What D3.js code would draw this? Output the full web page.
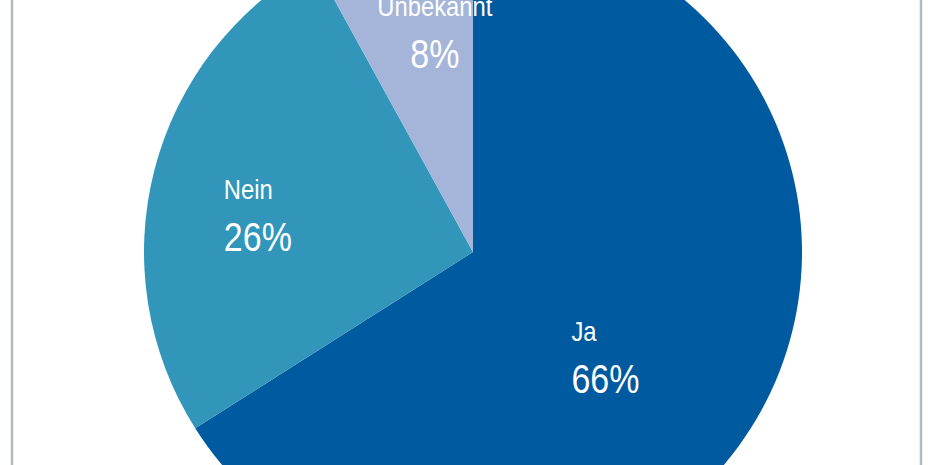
<!DOCTYPE html>
<html>
<head>
<meta charset="utf-8">
<script src="https://cdn.jsdelivr.net/npm/d3@7"></script>
<style>
  body { margin: 0; background: #fff; }
  svg { display: block; }
  .label-name, .label-value {
    fill: #fff;
    font-family: "Liberation Sans", Arial, sans-serif;
  }
  .label-name { font-size: 28px; }
  .label-value { font-size: 40px; }
</style>
</head>
<body>
<div id="chart-holder"></div>
<script>
// chart data
var categories = ["Ja", "Nein", "Unbekannt"];
var shares = [66, 26, 8];
var colors = ["#005aa0", "#3196ba", "#a4b5d9"];

// label nudges relative to the arc centroid (layout only)
var labelNudge = [[-89, -14], [-42, 0], [15, -29]];
var labelAnchor = ["start", "start", "middle"];

var width = 930;
var height = 465;
var cx = 473;
var cy = 252;
var radius = 329;

var svg = d3.select("#chart-holder")
  .append("svg")
  .attr('width', width)
  .attr('height', height);

// grey frame lines left and right
svg.selectAll("line.frame")
  .data([12, 921])
  .enter()
  .append("line")
  .attr('class', 'frame')
  .attr('x1', function(d) { return d; })
  .attr('x2', function(d) { return d; })
  .attr('y1', 0)
  .attr('y2', height)
  .attr('stroke', '#b0bac2')
  .attr('stroke-width', 2.5);

var data = categories.map(function(c, i) {
  return { name: c, value: shares[i], color: colors[i], idx: i };
});

// keep the data order, clockwise from 12 o'clock
var pie = d3.pie()
  .sort(null)
  .value(function(d) { return d.value; });

var arc = d3.arc()
  .innerRadius(0)
  .outerRadius(radius);

var labelArc = d3.arc()
  .innerRadius(radius * 0.65)
  .outerRadius(radius * 0.65);

var g = svg.append("g")
  .attr('transform', 'translate(' + cx + ',' + cy + ')');

g.selectAll("path")
  .data(pie(data))
  .enter()
  .append("path")
  .attr('d', arc)
  .attr('fill', function(d) { return d.data.color; });

// labels: name on top, percentage below
var labels = g.selectAll("g.label")
  .data(pie(data))
  .enter()
  .append("g")
  .attr('class', 'label')
  .attr('transform', function(d) {
    var c = labelArc.centroid(d);
    var n = labelNudge[d.data.idx];
    return 'translate(' + (c[0] + n[0]) + ',' + (c[1] + n[1]) + ') scale(0.85,1)';
  });

labels.append("text")
  .attr('class', 'label-name')
  .attr('text-anchor', function(d) { return labelAnchor[d.data.idx]; })
  .text(function(d) { return d.data.name; });

labels.append("text")
  .attr('class', 'label-value')
  .attr('y', 52)
  .attr('text-anchor', function(d) { return labelAnchor[d.data.idx]; })
  .text(function(d) { return d.data.value + "%"; });
</script>
</body>
</html>
